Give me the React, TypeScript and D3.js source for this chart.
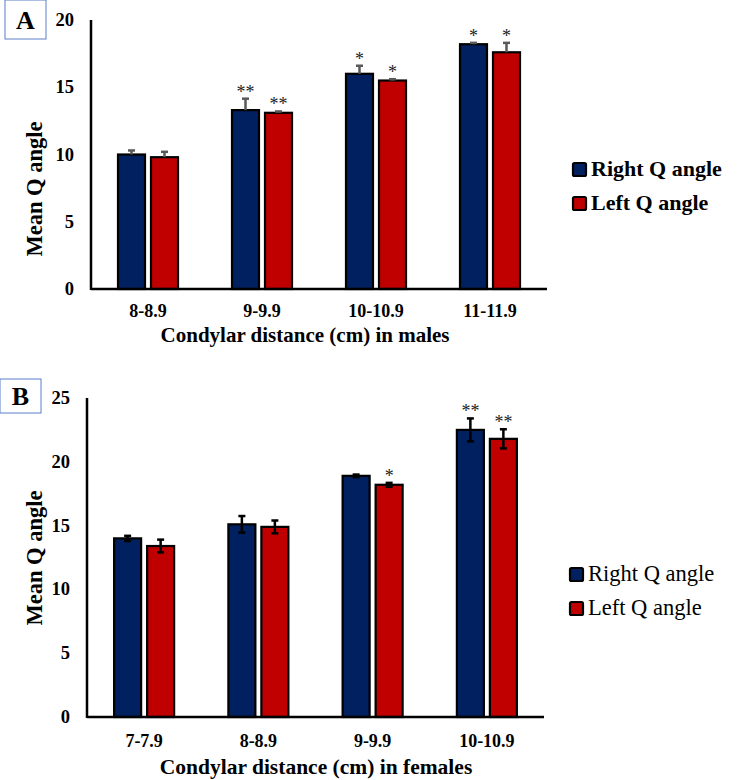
import * as d3 from 'd3';
import React from 'react';

// Panel A: males
const catsA = ['8-8.9', '9-9.9', '10-10.9', '11-11.9'];
const rightA = [10.0, 13.3, 16.0, 18.2];
const leftA = [9.8, 13.1, 15.5, 17.6];
const rightErrA = [0.3, 0.85, 0.6, 0.1];
const leftErrA = [0.4, 0.1, 0.1, 0.7];
const rightStarA = ['', '**', '*', '*'];
const leftStarA = ['', '**', '*', '*'];
const ticksA = [0, 5, 10, 15, 20];

// Panel B: females
const catsB = ['7-7.9', '8-8.9', '9-9.9', '10-10.9'];
const rightB = [14.0, 15.1, 18.9, 22.5];
const leftB = [13.4, 14.9, 18.2, 21.8];
const rightErrB = [0.2, 0.65, 0.1, 0.9];
const leftErrB = [0.5, 0.5, 0.15, 0.75];
const rightStarB = ['', '', '', '**'];
const leftStarB = ['', '', '*', '**'];
const ticksB = [0, 5, 10, 15, 20, 25];

const seriesNames = ['Right Q angle', 'Left Q angle'];
const BLUE = '#002060';
const RED = '#c00000';
const FONT = 'Liberation Serif, Times New Roman, serif';

interface PanelProps {
  letter: string;
  boxX: number;
  boxY: number;
  boxW: number;
  boxH: number;
  x0: number;
  x1: number;
  y0: number;
  y1: number;
  cats: string[];
  right: number[];
  left: number[];
  rightErr: number[];
  leftErr: number[];
  rightStar: string[];
  leftStar: string[];
  ticks: number[];
  title: string;
  titleX: number;
  titleSize: number;
  tickDy: number;
  titleDy: number;
  yTitleY: number;
  errColor: string;
  bothSides: boolean;
}

const Panel: React.FC<PanelProps> = (p) => {
  const x = d3.scaleBand().domain(p.cats).range([p.x0, p.x1]);
  const y = d3.scaleLinear().domain([0, p.ticks[p.ticks.length - 1]]).range([p.y0, p.y1]);
  const barW = 27;
  const gap = 6;
  const series = [
    { vals: p.right, errs: p.rightErr, stars: p.rightStar, color: BLUE, off: -gap / 2 - barW },
    { vals: p.left, errs: p.leftErr, stars: p.leftStar, color: RED, off: gap / 2 },
  ];
  return (
    <g style={{ fontFamily: FONT }}>
      <rect x={p.boxX} y={p.boxY} width={p.boxW} height={p.boxH} fill="#fff" stroke="#5b7fc7" strokeWidth={1} />
      <text x={p.boxX + p.boxW / 2} y={p.boxY + p.boxH / 2 + 9} textAnchor="middle" fontWeight="bold" fontSize={26}>{p.letter}</text>
      {p.ticks.map(t => (
        <text key={t} x={p.x0 - 17} y={y(t) + 6} textAnchor="end" fontWeight="bold" fontSize={18.5}>{t}</text>
      ))}
      {series.map((s, si) => p.cats.map((c, i) => {
        const cx = (x(c) ?? 0) + x.bandwidth() / 2;
        const bx = cx + s.off;
        const v = s.vals[i];
        const ex = bx + barW / 2;
        const eTop = y(v + s.errs[i]);
        const eBot = p.bothSides ? y(v - s.errs[i]) : y(v);
        return (
          <g key={si + c}>
            <rect x={bx} y={y(v)} width={barW} height={y(0) - y(v)} fill={s.color} stroke="#000" strokeWidth={2.2} />
            <line x1={ex} x2={ex} y1={eTop} y2={eBot} stroke={p.errColor} strokeWidth={2.5} />
            <line x1={ex - 3.5} x2={ex + 3.5} y1={eTop} y2={eTop} stroke={p.errColor} strokeWidth={2.5} />
            {p.bothSides && <line x1={ex - 3.5} x2={ex + 3.5} y1={eBot} y2={eBot} stroke={p.errColor} strokeWidth={2.5} />}
            {s.stars[i] && (
              <text x={ex} y={eTop - 1} textAnchor="middle" fontSize={18} fill="#222">{s.stars[i]}</text>
            )}
          </g>
        );
      }))}
      <line x1={p.x0} x2={p.x0} y1={p.y1} y2={p.y0 + 1} stroke="#000" strokeWidth={2.5} />
      <line x1={p.x0} x2={p.x1} y1={p.y0} y2={p.y0} stroke="#000" strokeWidth={2.5} />
      {p.cats.map(c => (
        <text key={c} x={(x(c) ?? 0) + x.bandwidth() / 2} y={p.y0 + p.tickDy} textAnchor="middle" fontWeight="bold" fontSize={18}>{c}</text>
      ))}
      <text x={p.titleX} y={p.y0 + p.titleDy} textAnchor="middle" fontWeight="bold" fontSize={p.titleSize}>{p.title}</text>
      <text transform={`translate(${42},${p.yTitleY}) rotate(-90)`} textAnchor="middle" fontWeight="bold" fontSize={22.5}>Mean Q angle</text>
    </g>
  );
};

interface LegendProps {
  x: number;
  y: number;
  bold: boolean;
  dy: number;
}

const Legend: React.FC<LegendProps> = ({ x, y, bold, dy }) => (
  <g style={{ fontFamily: FONT }}>
    {seriesNames.map((n, i) => (
      <g key={n} transform={`translate(${x},${y + i * dy})`}>
        <rect x={1} y={-13} width={13} height={13} fill={i === 0 ? BLUE : RED} stroke="#000" strokeWidth={2.2} rx={1.5} />
        <text x={19} y={0} fontWeight={bold ? 'bold' : 'normal'} fontSize={bold ? 22 : 22.5}>{n}</text>
      </g>
    ))}
  </g>
);

const App: React.FC = () => (
  <svg width={740} height={780} style={{ position: 'absolute', left: 0, top: 0, background: '#fff' }}>
    <rect width={740} height={780} fill="#fff" />
    <Panel
      letter="A" boxX={5} boxY={0} boxW={41} boxH={39}
      x0={91} x1={547} y0={289} y1={20}
      cats={catsA} right={rightA} left={leftA} rightErr={rightErrA} leftErr={leftErrA}
      rightStar={rightStarA} leftStar={leftStarA} ticks={ticksA}
      title="Condylar distance (cm) in males" titleX={305} titleSize={21}
      tickDy={28} titleDy={53} yTitleY={189}
      errColor="#595959" bothSides={false}
    />
    <Legend x={572} y={176} bold dy={34} />
    <Panel
      letter="B" boxX={0} boxY={379} boxW={41} boxH={34}
      x0={87} x1={544} y0={717} y1={398}
      cats={catsB} right={rightB} left={leftB} rightErr={rightErrB} leftErr={leftErrB}
      rightStar={rightStarB} leftStar={leftStarB} ticks={ticksB}
      title="Condylar distance (cm) in females" titleX={316} titleSize={21.5}
      tickDy={30} titleDy={57} yTitleY={558}
      errColor="#000" bothSides
    />
    <Legend x={569} y={581} bold={false} dy={34} />
  </svg>
);

export default App;
